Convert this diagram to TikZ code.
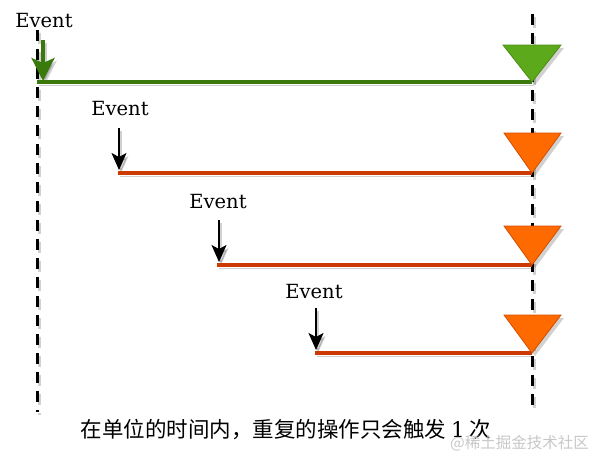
\documentclass[tikz,border=0pt]{standalone}
\usepackage{fontspec}
\newfontfamily\evtfont{DejaVu Serif}
\newfontfamily\cjk{Noto Sans CJK SC}
\usetikzlibrary{arrows.meta}
\definecolor{gline}{HTML}{3A7A0C}
\definecolor{gfill}{HTML}{5CAA1C}
\definecolor{gedge}{HTML}{4A8C14}
\definecolor{oline}{HTML}{CC3A00}
\definecolor{ofill}{HTML}{FF6A00}
\definecolor{oedge}{HTML}{D04E00}
\begin{document}
\begin{tikzpicture}[x=1pt,y=-1pt,
  evt/.style={font=\evtfont\fontsize{19.5}{22}\selectfont, inner sep=0pt},
  shd/.style={preaction={draw=black, opacity=0.18, transform canvas={shift={(2pt,-3pt)}}}},
  vdash/.style={line width=3pt, dash pattern=on 11pt off 8pt, draw=black},
  vdashshd/.style={line width=3pt, dash pattern=on 11pt off 8pt, draw=black, opacity=0.18},
  gbar/.style={line width=4.5pt, draw=gline, shd},
  obar/.style={line width=4pt, draw=oline, shd},
  garrow/.style={line width=3.5pt, draw=gline, -{Stealth[length=23pt,width=23pt,inset=5pt]}},
  karrow/.style={line width=1.6pt, draw=black, -{Stealth[length=17pt,width=15pt,inset=4pt]}},
  ashd/.style={opacity=0.18, draw=black},
  gtri/.style={fill=gfill, draw=gedge, line width=0.8pt, line join=miter,
    preaction={fill=black, opacity=0.18, transform canvas={shift={(3pt,-3pt)}}}},
  otri/.style={fill=ofill, draw=oedge, line width=0.8pt, line join=miter,
    preaction={fill=black, opacity=0.18, transform canvas={shift={(3pt,-3pt)}}}},
]
\useasboundingbox (0,0) rectangle (603,469);

% dashed time lines
\coordinate (lt) at (37,30);
\coordinate (lb) at (37,412);
\coordinate (rt) at (532,14);
\coordinate (rb) at (532,412);
\begin{scope}[transform canvas={shift={(2pt,-3pt)}}]
\draw[vdashshd] (lt) -- (lb);
\draw[vdashshd] (rt) -- (rb);
\end{scope}
\draw[vdash] (lt) -- (lb);
\draw[vdash] (rt) -- (rb);

% coordinates
\coordinate (a0s) at (43,40);
\coordinate (a0e) at (43,81);
\coordinate (s0) at (37,82);
\coordinate (t0) at (532,82);
\coordinate (a1s) at (119,128);
\coordinate (a1e) at (119,170);
\coordinate (s1) at (118,173);
\coordinate (t1) at (532,173);
\coordinate (a2s) at (219,220);
\coordinate (a2e) at (219,262);
\coordinate (s2) at (217,265);
\coordinate (t2) at (532,265);
\coordinate (a3s) at (316,308);
\coordinate (a3e) at (316,350);
\coordinate (s3) at (315,353);
\coordinate (t3) at (532,353);

% arrow shadows
\begin{scope}[transform canvas={shift={(2pt,-3pt)}}]
\draw[garrow, ashd] (a0s) -- (a0e);
\draw[karrow, ashd] (a1s) -- (a1e);
\draw[karrow, ashd] (a2s) -- (a2e);
\draw[karrow, ashd] (a3s) -- (a3e);
\end{scope}

% row 0 (green)
\node[evt] (e0) at (44,21) {Event};
\draw[gbar] (s0) -- (t0);
\draw[garrow] (a0s) -- (a0e);
\draw[gtri] (503,45) -- (561,45) -- (t0) -- cycle;

% row 1
\node[evt] (e1) at (120,109) {Event};
\draw[obar] (s1) -- (t1);
\draw[karrow] (a1s) -- (a1e);
\draw[otri] (504,133) -- (561,133) -- (t1) -- cycle;

% row 2
\node[evt] (e2) at (218,202) {Event};
\draw[obar] (s2) -- (t2);
\draw[karrow] (a2s) -- (a2e);
\draw[otri] (504,226) -- (561,226) -- (t2) -- cycle;

% row 3
\node[evt] (e3) at (314,292) {Event};
\draw[obar] (s3) -- (t3);
\draw[karrow] (a3s) -- (a3e);
\draw[otri] (504,315) -- (561,315) -- (t3) -- cycle;

% caption
\node[font=\cjk\fontsize{21.5}{24}\selectfont, inner sep=0pt] (cap) at (286,430)
  {在单位的时间内，重复的操作只会触发 {\evtfont 1} 次};
\node[font=\cjk\fontsize{15.5}{17}\selectfont, text=black!22, inner sep=0pt, anchor=east] (wm) at (589,443)
  {@稀土掘金技术社区};
\end{tikzpicture}
\end{document}
